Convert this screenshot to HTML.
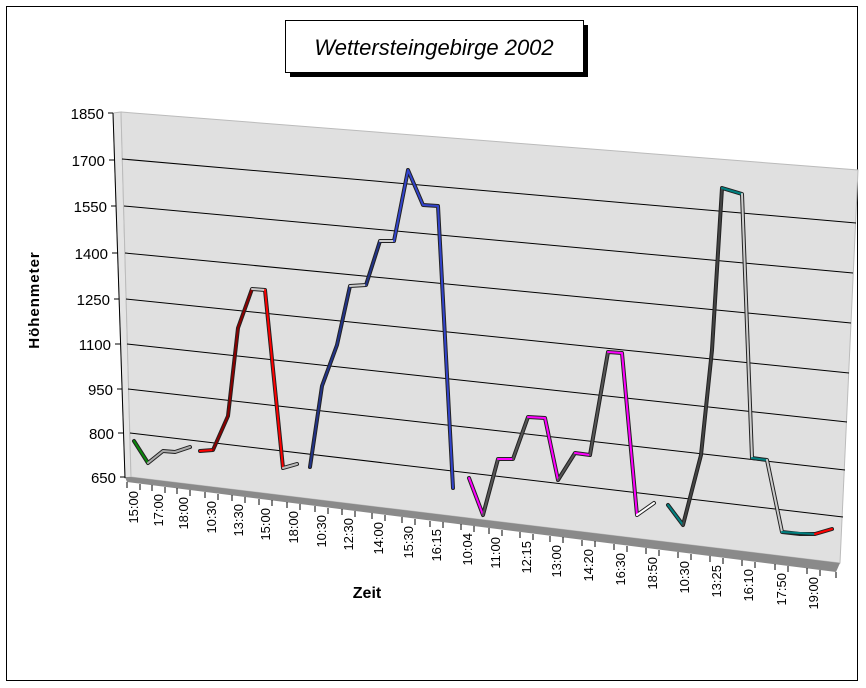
<!DOCTYPE html>
<html><head><meta charset="utf-8"><style>
body{margin:0;background:#fff;width:866px;height:688px;overflow:hidden}
svg{display:block}
</style></head><body>
<svg width="866" height="688" xmlns="http://www.w3.org/2000/svg" font-family="Liberation Sans, sans-serif">
<rect x="0" y="0" width="866" height="688" fill="#fff"/>
<rect x="6.5" y="6.5" width="851" height="674" fill="#fff" stroke="#000" stroke-width="1"/>
<rect x="290" y="25" width="298" height="52" fill="#000"/>
<rect x="285.5" y="20.5" width="298" height="52" fill="#fff" stroke="#000"/>
<text x="434" y="55" font-size="22" font-style="italic" text-anchor="middle">Wettersteingebirge 2002</text>
<polygon points="113,113 121,112 131,477 125,478" fill="#e4e4e4" stroke="#bbb" stroke-width="1"/>
<polygon points="121,112 858,170 840,563 131,477" fill="#e0e0e0" stroke="#bbb" stroke-width="1"/>
<polygon points="125,477 131,477 840,563 836,572 127,482" fill="#8a8a8a"/>
<g stroke="#000" stroke-width="1">
<line x1="122" y1="159" x2="856" y2="223"/>
<line x1="124" y1="206" x2="853" y2="273"/>
<line x1="125" y1="253" x2="851" y2="323"/>
<line x1="126" y1="299" x2="849" y2="373"/>
<line x1="127" y1="344" x2="847" y2="422"/>
<line x1="128" y1="389" x2="845" y2="470"/>
<line x1="130" y1="433" x2="843" y2="517"/>
</g>
<g stroke="#000" stroke-width="1">
<line x1="113" y1="113" x2="125" y2="478"/>
<line x1="108" y1="113" x2="113" y2="113"/>
<line x1="109" y1="160" x2="115" y2="160"/>
<line x1="111" y1="206" x2="116" y2="206"/>
<line x1="112" y1="253" x2="118" y2="253"/>
<line x1="114" y1="299" x2="119" y2="299"/>
<line x1="115" y1="344" x2="121" y2="344"/>
<line x1="117" y1="389" x2="122" y2="389"/>
<line x1="118" y1="433" x2="124" y2="433"/>
<line x1="120" y1="477" x2="125" y2="477"/>
</g>
<g font-size="15" text-anchor="end">
<text x="104" y="119">1850</text>
<text x="105" y="166">1700</text>
<text x="107" y="212">1550</text>
<text x="108" y="259">1400</text>
<text x="110" y="305">1250</text>
<text x="111" y="350">1100</text>
<text x="113" y="395">950</text>
<text x="114" y="439">800</text>
<text x="116" y="483">650</text>
</g>
<text transform="translate(39,300) rotate(-90)" font-size="15" font-weight="bold" text-anchor="middle" letter-spacing="1">Höhenmeter</text>
<text x="367" y="598" font-size="16" font-weight="bold" text-anchor="middle">Zeit</text>
<g stroke="#000" stroke-width="1">
<line x1="127" y1="482" x2="127" y2="488"/><line x1="140" y1="484" x2="140" y2="490"/>
<line x1="152" y1="485" x2="152" y2="491"/><line x1="165" y1="487" x2="165" y2="493"/>
<line x1="177" y1="488" x2="177" y2="494"/><line x1="190" y1="490" x2="190" y2="496"/>
<line x1="205" y1="492" x2="205" y2="498"/><line x1="218" y1="494" x2="218" y2="500"/>
<line x1="232" y1="495" x2="232" y2="501"/><line x1="245" y1="497" x2="245" y2="503"/>
<line x1="259" y1="499" x2="259" y2="505"/><line x1="272" y1="500" x2="272" y2="506"/>
<line x1="287" y1="502" x2="287" y2="508"/><line x1="300" y1="504" x2="300" y2="510"/>
<line x1="315" y1="506" x2="315" y2="512"/><line x1="328" y1="508" x2="328" y2="514"/>
<line x1="342" y1="509" x2="342" y2="515"/><line x1="355" y1="511" x2="355" y2="517"/>
<line x1="372" y1="513" x2="372" y2="519"/><line x1="385" y1="515" x2="385" y2="521"/>
<line x1="402" y1="517" x2="402" y2="523"/><line x1="415" y1="519" x2="415" y2="525"/>
<line x1="430" y1="521" x2="430" y2="527"/><line x1="443" y1="522" x2="443" y2="528"/>
<line x1="461" y1="524" x2="461" y2="530"/><line x1="474" y1="526" x2="474" y2="532"/>
<line x1="489" y1="528" x2="489" y2="534"/><line x1="502" y1="530" x2="502" y2="536"/>
<line x1="520" y1="532" x2="520" y2="538"/><line x1="533" y1="534" x2="533" y2="540"/>
<line x1="550" y1="536" x2="550" y2="542"/><line x1="563" y1="537" x2="563" y2="543"/>
<line x1="582" y1="540" x2="582" y2="546"/><line x1="595" y1="541" x2="595" y2="547"/>
<line x1="614" y1="544" x2="614" y2="550"/><line x1="627" y1="546" x2="627" y2="552"/>
<line x1="646" y1="548" x2="646" y2="554"/><line x1="659" y1="550" x2="659" y2="556"/>
<line x1="678" y1="552" x2="678" y2="558"/><line x1="691" y1="554" x2="691" y2="560"/>
<line x1="710" y1="556" x2="710" y2="562"/><line x1="723" y1="558" x2="723" y2="564"/>
<line x1="742" y1="560" x2="742" y2="566"/><line x1="755" y1="562" x2="755" y2="568"/>
<line x1="775" y1="564" x2="775" y2="570"/><line x1="788" y1="566" x2="788" y2="572"/>
<line x1="807" y1="568" x2="807" y2="574"/><line x1="820" y1="570" x2="820" y2="576"/>
<line x1="836" y1="572" x2="836" y2="578"/>
</g>
<g font-size="13" text-anchor="end">
<text transform="translate(138,491) rotate(-90)">15:00</text>
<text transform="translate(163,494) rotate(-90)">17:00</text>
<text transform="translate(188,497) rotate(-90)">18:00</text>
<text transform="translate(216,501) rotate(-90)">10:30</text>
<text transform="translate(243,504) rotate(-90)">13:30</text>
<text transform="translate(270,508) rotate(-90)">15:00</text>
<text transform="translate(298,511) rotate(-90)">18:00</text>
<text transform="translate(326,515) rotate(-90)">10:30</text>
<text transform="translate(353,518) rotate(-90)">12:30</text>
<text transform="translate(383,522) rotate(-90)">14:00</text>
<text transform="translate(413,526) rotate(-90)">15:30</text>
<text transform="translate(441,529) rotate(-90)">16:15</text>
<text transform="translate(472,533) rotate(-90)">10:04</text>
<text transform="translate(500,537) rotate(-90)">11:00</text>
<text transform="translate(531,541) rotate(-90)">12:15</text>
<text transform="translate(561,545) rotate(-90)">13:00</text>
<text transform="translate(593,549) rotate(-90)">14:20</text>
<text transform="translate(625,553) rotate(-90)">16:30</text>
<text transform="translate(657,557) rotate(-90)">18:50</text>
<text transform="translate(689,561) rotate(-90)">10:30</text>
<text transform="translate(721,565) rotate(-90)">13:25</text>
<text transform="translate(753,569) rotate(-90)">16:10</text>
<text transform="translate(786,573) rotate(-90)">17:50</text>
<text transform="translate(818,577) rotate(-90)">19:00</text>
</g>
<g fill="none" stroke-linejoin="round" stroke-linecap="round">
<g stroke="#222" stroke-width="4">
<polyline points="134,441 148,463 163,451 175,452 190,447"/>
<polyline points="200,451 213,450 228,416 238,328 252,289 265,290 283,468 297,464"/>
<polyline points="310,467 322,386 337,345 350,286 366,285 380,241 394,241 408,170 423,205 438,206 453,488"/>
<polyline points="469,478 483,515 498,459 513,459 528,417 545,418 558,480 575,453 590,455 608,352 622,353 637,515 654,503"/>
<polyline points="668,505 683,525 701,455 712,350 722,188 742,194 752,458 767,460 782,532 800,534 815,534 832,529"/>
</g>
<g stroke-width="2">
<polyline stroke="#0a8a0a" points="134,441 148,463"/>
<polyline stroke="#aaa" points="148,463 163,451 175,452 190,447"/>
<polyline stroke="#ff0000" points="200,451 213,450"/>
<polyline stroke="#8b0000" points="213,450 228,416 238,328 252,289"/>
<polyline stroke="#ccc" points="252,289 265,290"/>
<polyline stroke="#ff0000" points="265,290 283,468"/>
<polyline stroke="#bbb" points="283,468 297,464"/>
<polyline stroke="#223388" points="310,467 322,386 337,345 350,286"/>
<polyline stroke="#ccc" points="350,286 366,285"/>
<polyline stroke="#223388" points="366,285 380,241"/>
<polyline stroke="#ccc" points="380,241 394,241"/>
<polyline stroke="#3344cc" points="394,241 408,170 423,205 438,206 453,488"/>
<polyline stroke="#ff00ff" points="469,478 483,515"/>
<polyline stroke="#555" points="483,515 498,459"/>
<polyline stroke="#ff00ff" points="498,459 513,459"/>
<polyline stroke="#555" points="513,459 528,417"/>
<polyline stroke="#ff00ff" points="528,417 545,418 558,480"/>
<polyline stroke="#555" points="558,480 575,453"/>
<polyline stroke="#ff00ff" points="575,453 590,455"/>
<polyline stroke="#555" points="590,455 608,352"/>
<polyline stroke="#ff00ff" points="608,352 622,353 637,515"/>
<polyline stroke="#fff" points="637,515 654,503"/>
<polyline stroke="#008080" points="668,505 683,525"/>
<polyline stroke="#444" points="683,525 701,455 712,350 722,188"/>
<polyline stroke="#008080" points="722,188 742,194"/>
<polyline stroke="#ccc" points="742,194 752,458"/>
<polyline stroke="#008080" points="752,458 767,460"/>
<polyline stroke="#ccc" points="767,460 782,532"/>
<polyline stroke="#008080" points="782,532 815,534"/>
<polyline stroke="#ff0000" points="815,534 832,529"/>
</g>
</g>
</svg>
</body></html>
